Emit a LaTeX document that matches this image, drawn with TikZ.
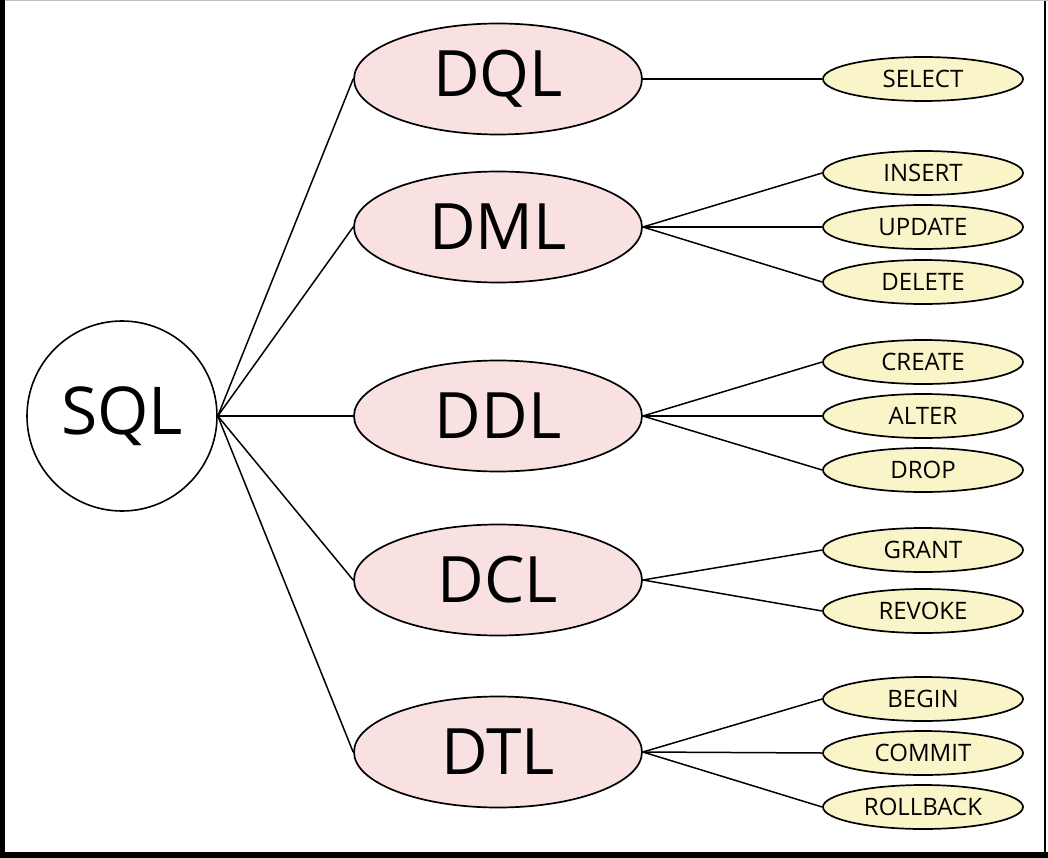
\documentclass[tikz,border=0pt]{standalone}
\usepackage{fontspec}
\setmainfont{Open Sans}
\usetikzlibrary{shapes.geometric}

\definecolor{langpink}{HTML}{F9E1E1}
\definecolor{cmdyellow}{HTML}{FAF5C9}

\begin{document}
\begin{tikzpicture}[x=1pt, y=-1pt,
	root/.style={circle, draw, line width=1.6pt, minimum size=190pt, inner sep=0pt, font=\fontsize{66}{66}\selectfont},
	lang/.style={ellipse, draw, line width=1.7pt, fill=langpink, minimum width=288pt, minimum height=111pt, inner sep=0pt, font=\fontsize{64}{64}\selectfont},
	cmd/.style={ellipse, draw, line width=1.7pt, fill=cmdyellow, minimum width=200pt, minimum height=44pt, inner sep=0pt, font=\fontsize{24}{24}\selectfont},
	link/.style={line width=1.5pt}]
	\useasboundingbox (0,0) rectangle (1048,858);
	\fill [white] (0,0) rectangle (1048,858);
	% frame
	\fill [black] (0,0) rectangle (5,858);
	\fill [black] (0,852) rectangle (1048,858);
	\draw [black, line width=1.5pt] (1045,0) -- (1045,852);
	\draw [black!25, line width=1pt] (5,0.5) -- (1048,0.5);

	\node [root] (SQL) at (122,416) {SQL};

	\node [lang] (DQL) at (498,79) {DQL};
	\node [lang] (DML) at (498,227) {DML};
	\node [lang] (DDL) at (498,416) {DDL};
	\node [lang] (DCL) at (498,580) {DCL};
	\node [lang] (DTL) at (498,752) {DTL};

	\node [cmd] (select) at (923,79) {SELECT};
	\node [cmd] (insert) at (923,173) {INSERT};
	\node [cmd] (update) at (923,227) {UPDATE};
	\node [cmd] (delete) at (923,282) {DELETE};
	\node [cmd] (create) at (923,362) {CREATE};
	\node [cmd] (alter) at (923,416) {ALTER};
	\node [cmd] (drop) at (923,470) {DROP};
	\node [cmd] (grant) at (923,550) {GRANT};
	\node [cmd] (revoke) at (923,611) {REVOKE};
	\node [cmd] (begin) at (923,699) {BEGIN};
	\node [cmd] (commit) at (923,753) {COMMIT};
	\node [cmd] (rollback) at (923,807) {ROLLBACK};

	\draw [link] (SQL.east) -- (DQL.west);
	\draw [link] (SQL.east) -- (DML.west);
	\draw [link] (SQL.east) -- (DDL.west);
	\draw [link] (SQL.east) -- (DCL.west);
	\draw [link] (SQL.east) -- (DTL.west);

	\draw [link] (DQL.east) -- (select.west);
	\draw [link] (DML.east) -- (insert.west);
	\draw [link] (DML.east) -- (update.west);
	\draw [link] (DML.east) -- (delete.west);
	\draw [link] (DDL.east) -- (create.west);
	\draw [link] (DDL.east) -- (alter.west);
	\draw [link] (DDL.east) -- (drop.west);
	\draw [link] (DCL.east) -- (grant.west);
	\draw [link] (DCL.east) -- (revoke.west);
	\draw [link] (DTL.east) -- (begin.west);
	\draw [link] (DTL.east) -- (commit.west);
	\draw [link] (DTL.east) -- (rollback.west);
\end{tikzpicture}
\end{document}
